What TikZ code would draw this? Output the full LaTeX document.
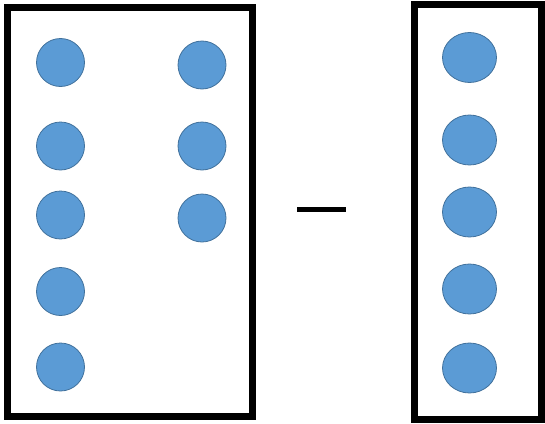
\documentclass[tikz,border=0pt]{standalone}
\usetikzlibrary{shapes.geometric}
\begin{document}
\begin{tikzpicture}[x=1pt,y=-1pt,
  frame/.style={draw=black,line width=7pt},
  dot/.style={circle,fill={rgb,255:red,91;green,155;blue,213},draw={rgb,255:red,65;green,113;blue,156},line width=0.8pt,minimum size=48pt,inner sep=0pt},
  edot/.style={ellipse,fill={rgb,255:red,91;green,155;blue,213},draw={rgb,255:red,65;green,113;blue,156},line width=0.8pt,minimum width=54pt,minimum height=50pt,inner sep=0pt}]
\useasboundingbox (0,0) rectangle (545,423);
\draw[frame] (7,7.5) rectangle (252.5,416);
\draw[frame] (414.5,4) rectangle (541,419.5);
\foreach \n/\y in {1/62.5,2/146,3/215,4/291.5,5/367}
  \node[dot] (l\n) at (60.5,\y) {};
\foreach \n/\y in {1/65,2/146,3/218}
  \node[dot] (m\n) at (202,\y) {};
\foreach \n/\y in {1/57.5,2/140,3/212,4/289,5/368}
  \node[edot] (r\n) at (469.5,\y) {};
\coordinate (ma) at (297,209.5);
\coordinate (mb) at (346,209.5);
\draw[line width=4.5pt] (ma) -- (mb);
\end{tikzpicture}
\end{document}
